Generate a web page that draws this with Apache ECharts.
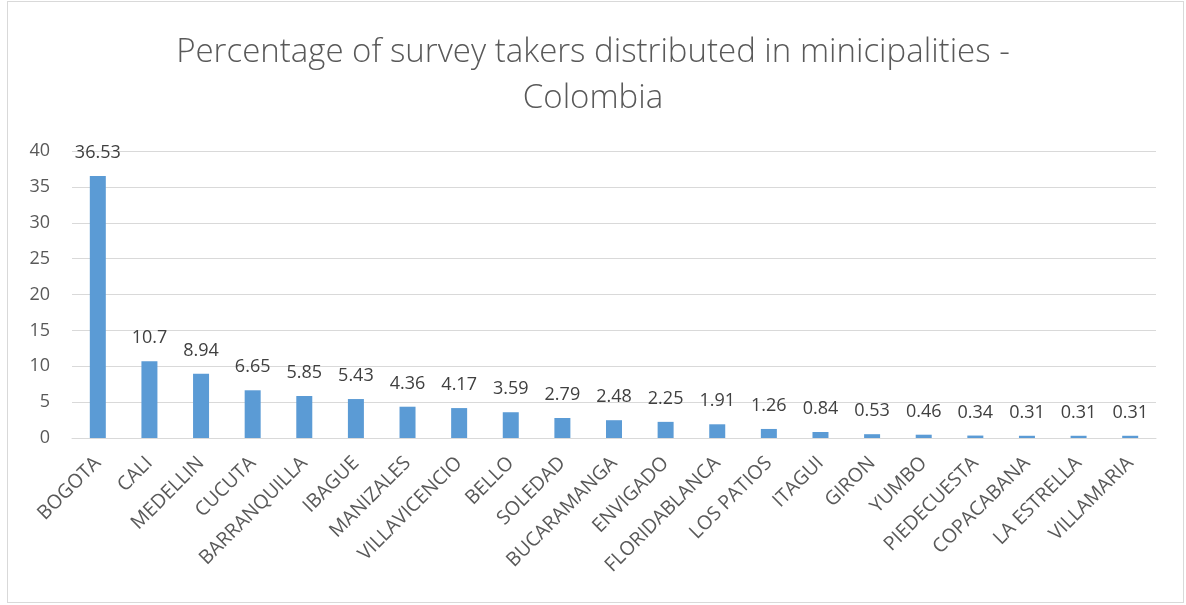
<!DOCTYPE html>
<html><head><meta charset="utf-8">
<script src="https://cdn.jsdelivr.net/npm/echarts@6/dist/echarts.min.js"></script>
<style>html,body{margin:0;padding:0;background:#fff}#c{width:1186px;height:605px;}
#frame{position:absolute;left:7px;top:1px;width:1177px;height:602px;border:1px solid #d9d9d9;box-sizing:border-box;pointer-events:none}</style>
</head><body><div id="c"></div><div id="frame"></div>
<script>
const categories = ["BOGOTA","CALI","MEDELLIN","CUCUTA","BARRANQUILLA","IBAGUE","MANIZALES","VILLAVICENCIO","BELLO","SOLEDAD","BUCARAMANGA","ENVIGADO","FLORIDABLANCA","LOS PATIOS","ITAGUI","GIRON","YUMBO","PIEDECUESTA","COPACABANA","LA ESTRELLA","VILLAMARIA"];
const values = [36.53,10.7,8.94,6.65,5.85,5.43,4.36,4.17,3.59,2.79,2.48,2.25,1.91,1.26,0.84,0.53,0.46,0.34,0.31,0.31,0.31];
const titleText = "Percentage of survey takers distributed in minicipalities -\nColombia";
const font = "'Open Sans', 'Liberation Sans', sans-serif";
const chart = echarts.init(document.getElementById('c'), null, {renderer:'canvas'});
chart.setOption({
  animation:false,
  title:{text:titleText,left:'center',top:25,textStyle:{fontFamily:font,fontSize:33,fontWeight:300,color:'#595959',lineHeight:46}},
  grid:{left:72,right:30,top:151,bottom:167},
  xAxis:{type:'category',data:categories,
    axisLine:{lineStyle:{color:'#d9d9d9',width:1}},axisTick:{show:false},
    axisLabel:{rotate:45,interval:0,fontFamily:font,fontSize:19.5,color:'#595959',margin:22}},
  yAxis:{type:'value',min:0,max:40,interval:5,
    axisLine:{show:false},axisTick:{show:false},
    splitLine:{lineStyle:{color:'#d9d9d9',width:1}},
    axisLabel:{fontFamily:font,fontSize:18,color:'#595959',margin:22}},
  series:[{type:'bar',data:values,barWidth:16,itemStyle:{color:'#5B9BD5'},
    label:{show:true,position:'top',distance:14,fontFamily:font,fontSize:18,color:'#404040'}}]
});
</script></body></html>
